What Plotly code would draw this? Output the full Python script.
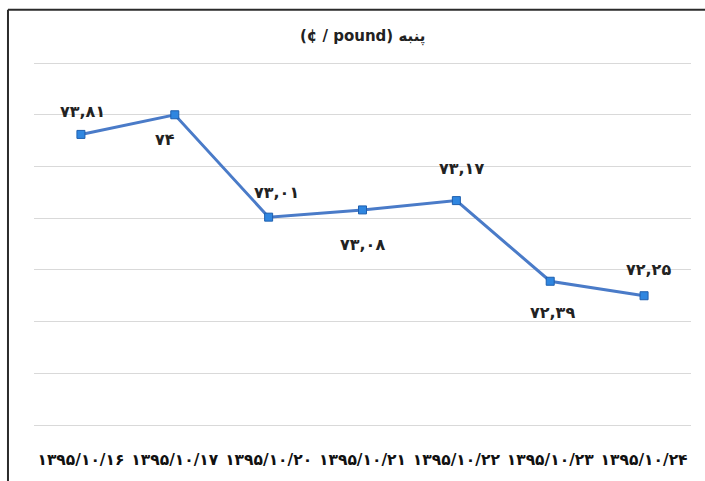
import plotly.graph_objects as go

categories = ["۱۳۹۵/۱۰/۱۶", "۱۳۹۵/۱۰/۱۷", "۱۳۹۵/۱۰/۲۰", "۱۳۹۵/۱۰/۲۱",
              "۱۳۹۵/۱۰/۲۲", "۱۳۹۵/۱۰/۲۳", "۱۳۹۵/۱۰/۲۴"]
values = [73.81, 74.0, 73.01, 73.08, 73.17, 72.39, 72.25]
value_labels = ["۷۳,۸۱", "۷۴", "۷۳,۰۱", "۷۳,۰۸", "۷۳,۱۷", "۷۲,۳۹", "۷۲,۲۵"]
label_dx = [2, -10, 8, 0, 5, 2, 4]
label_dy = [23, -25, 25, -35, 32, -31, 26]

title_text = "(¢ / pound) پنبه"
FONT = "DejaVu Sans, sans-serif"

fig = go.Figure()
fig.add_trace(go.Scatter(
    x=categories, y=values, mode="lines+markers",
    line=dict(color="#4a7bc8", width=3),
    marker=dict(symbol="square", size=8, color="#2f86e0",
                line=dict(color="#1f5fae", width=1)),
    hoverinfo="skip", showlegend=False,
))

for c, v, t, dx, dy in zip(categories, values, value_labels, label_dx, label_dy):
    fig.add_annotation(x=c, y=v, text="<b>%s</b>" % t, showarrow=False,
                       xshift=dx, yshift=dy,
                       font=dict(family=FONT, size=16, color="#222"))

fig.add_annotation(xref="paper", yref="paper", x=0.5, y=1.0, yshift=25,
                   yanchor="middle",
                   text="<b>%s</b>" % title_text, showarrow=False,
                   font=dict(family=FONT, size=15, color="#222"))

# outer frame (top and left edges visible)
fig.add_shape(type="line", xref="paper", yref="paper",
              x0=-0.0396, x1=1.2, y0=1.1405, y1=1.1405,
              line=dict(color="#2b2b2b", width=2))
fig.add_shape(type="line", xref="paper", yref="paper",
              x0=-0.0396, x1=-0.0396, y0=1.1405, y1=-0.3,
              line=dict(color="#2b2b2b", width=2))

fig.update_layout(
    width=705, height=481,
    margin=dict(l=34, r=14, t=61, b=50),
    paper_bgcolor="white", plot_bgcolor="white",
    xaxis=dict(type="category", range=[-0.5, 6.5], showgrid=False,
               zeroline=False, showline=True, linecolor="#d9d9d9",
               linewidth=1, ticks="", ticklabelstandoff=20,
               tickfont=dict(family=FONT, size=15.5, color="#111"),
               tickprefix="<b>", ticksuffix="</b>"),
    yaxis=dict(range=[71, 74.52], dtick=0.5, tick0=71, showgrid=True,
               gridcolor="#d9d9d9", gridwidth=1, zeroline=False,
               showticklabels=False, showline=False),
)

fig.write_html("out.html", config={"displayModeBar": False},
               post_script="document.body.style.margin='0';")
